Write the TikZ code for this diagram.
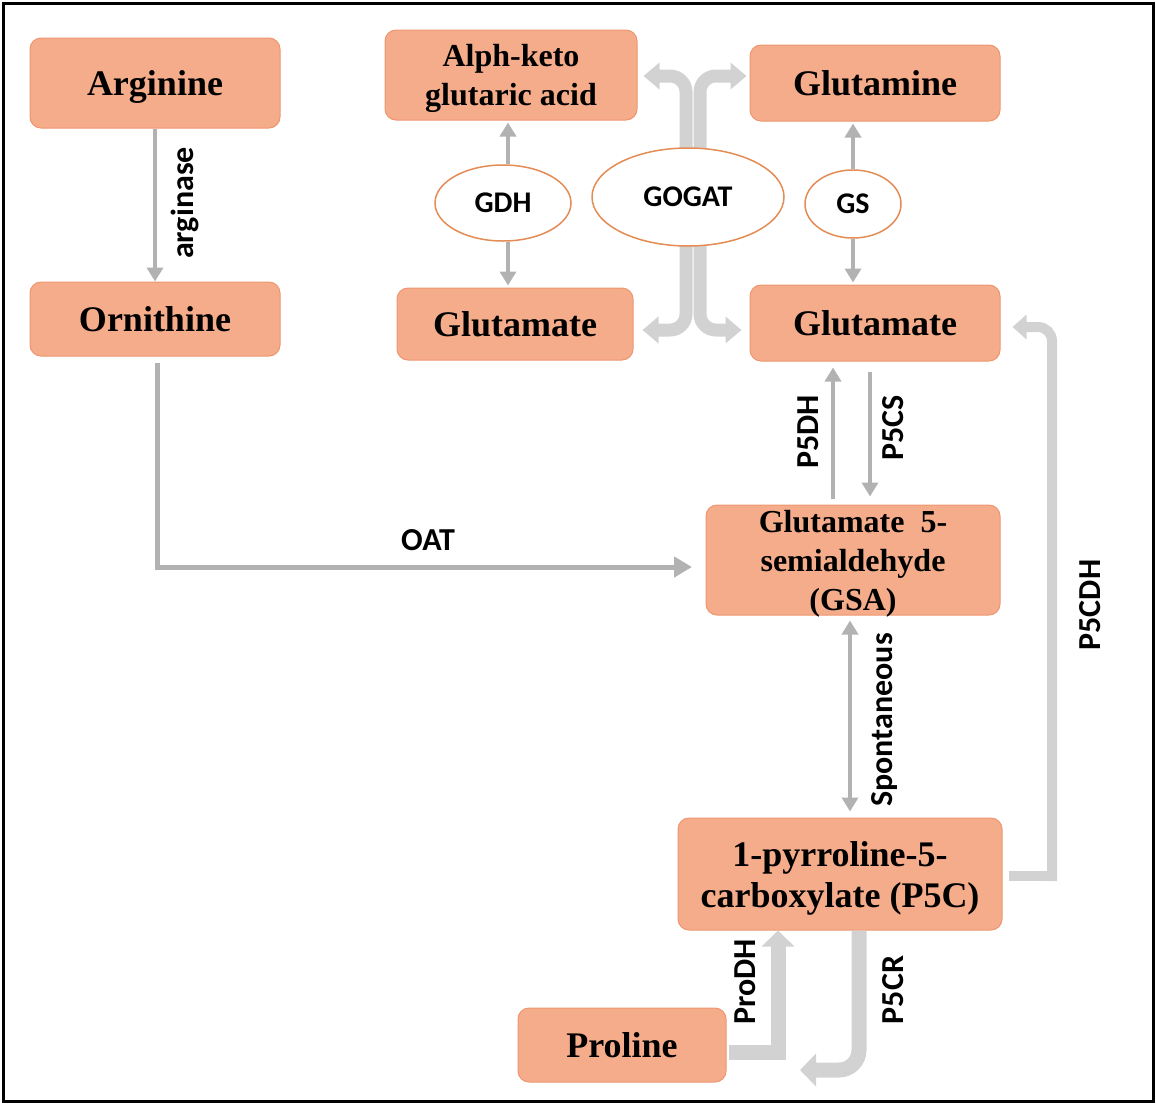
\documentclass[tikz,border=0pt]{standalone}
\usepackage{fontspec}
\setmainfont{Liberation Serif}
\newfontfamily\labfont{Carlito}
\usetikzlibrary{arrows.meta,shapes.geometric,calc}
\definecolor{boxfill}{RGB}{245,172,138}
\definecolor{boxedge}{RGB}{238,150,112}
\definecolor{elledge}{RGB}{228,140,85}
\definecolor{arrgray}{RGB}{178,178,178}
\definecolor{widegray}{RGB}{210,210,210}
\begin{document}
\begin{tikzpicture}[x=1pt,y=-1pt,
 box/.style={draw=boxedge, line width=1pt, fill=boxfill, rounded corners=11pt, align=center,
   font=\fontsize{36}{40}\selectfont\bfseries, inner sep=0pt, text depth=0pt},
 enz/.style={ellipse, draw=elledge, line width=1.5pt, fill=white,
   font=\labfont\fontsize{30}{34}\selectfont\bfseries, inner sep=0pt},
 lab/.style={font=\labfont\fontsize{32}{36}\selectfont\bfseries, inner sep=0pt},
 arr/.style={draw=arrgray, line width=4pt, -{Triangle[length=14pt,width=16pt]}},
 dblarr/.style={draw=arrgray, line width=4pt, {Triangle[length=14pt,width=16pt]}-{Triangle[length=14pt,width=16pt]}},
 gog/.style={draw=widegray, line width=13pt, rounded corners=16pt,
   {Triangle[length=16pt,width=26pt]}-{Triangle[length=16pt,width=26pt]}},
 wide/.style={draw=widegray, line width=10pt},
 widearr/.style={draw=widegray, line width=10pt, -{Triangle[length=14pt,width=24pt]}},
 fat/.style={draw=widegray, line width=15pt, -{Triangle[length=16pt,width=32pt]}}
]
\useasboundingbox (0,0) rectangle (1156,1104);
\draw[line width=3pt] (3,3) rectangle (1153,1101);

% boxes
\node[box, minimum width=250pt, minimum height=90pt] (arg) at (155,83) {Arginine};
\node[box, minimum width=250pt, minimum height=74pt] (orn) at (155,319) {Ornithine};
\node[box, minimum width=252pt, minimum height=90pt, font=\fontsize{32}{39}\selectfont\bfseries] (akg) at (511,75) {Alph-keto\\glutaric acid};
\node[box, minimum width=250pt, minimum height=76pt] (gln) at (875,83) {Glutamine};
\node[box, minimum width=236pt, minimum height=72pt] (glua) at (515,324) {Glutamate};
\node[box, minimum width=250pt, minimum height=76pt] (glub) at (875,323) {Glutamate};
\node[box, minimum width=294pt, minimum height=110pt, font=\fontsize{32}{39}\selectfont\bfseries] (gsa) at (853,560) {Glutamate\enspace 5-\\semialdehyde\\(GSA)};
\node[box, minimum width=324pt, minimum height=112pt, font=\fontsize{36}{41}\selectfont\bfseries] (p5c) at (840,874) {1-pyrroline-5-\\carboxylate (P5C)};
\node[box, minimum width=208pt, minimum height=74pt] (pro) at (622,1045) {Proline};

% GOGAT bracket
\draw[gog] ($(akg.east)+(6,1)$) -- (686,76) -- (686,330) -- ($(glua.east)+(9,6)$);
\draw[gog] ($(gln.west)+(-3,-7)$) -- (700,76) -- (700,330) -- ($(glub.west)+(-8,7)$);

% enzymes
\node[enz, minimum width=136pt, minimum height=76pt] (gdh) at (503,203) {GDH};
\node[enz, minimum width=192pt, minimum height=98pt] (gogat) at (688,197) {GOGAT};
\node[enz, minimum width=96pt, minimum height=68pt] (gs) at (853,204) {GS};

% GDH and GS arrows
\draw[arr] ($(gdh.north)+(5,0)$) -- ($(gdh.north |- akg.south)+(5,2)$);
\draw[arr] ($(gdh.south)+(5,0)$) -- ($(gdh.south |- glua.north)+(5,-2)$);
\draw[arr] (gs.north) -- ($(gs.north |- gln.south)+(0,2)$);
\draw[arr] (gs.south) -- ($(gs.south |- glub.north)+(0,-2)$);

% arginase
\draw[arr] (arg.south) -- (orn.north);
\node[lab, rotate=90] (argl) at (185,203) {arginase};

% OAT
\coordinate (oatend) at (692,567);
\draw[draw=arrgray, line width=5pt, -{Triangle[length=18pt,width=20pt]}] ($(orn.south)+(2,6)$) |- (oatend);
\node[lab] (oatl) at (428,540) {OAT};

% P5DH / P5CS
\draw[arr] ($(gsa.north)+(-20,-6)$) -- ($(glub.south)+(-42,6)$);
\draw[arr] ($(glub.south)+(-5,10)$) -- ($(gsa.north)+(17,-8)$);
\node[lab, rotate=90] (p5dhl) at (808,432) {P5DH};
\node[lab, rotate=90] (p5csl) at (893,428) {P5CS};

% Spontaneous
\draw[dblarr] ($(gsa.south)+(-3,5)$) -- ($(p5c.north)+(10,-6)$);
\node[lab, rotate=90] (spl) at (885,720) {Spontaneous};

% P5CDH
\draw[wide] ($(p5c.east)+(6,2)$) -- (1057,876);
\draw[widearr, rounded corners=14pt] (1052,881) -- (1052,327) -- ($(glub.east)+(12,4)$);
\node[lab, rotate=90] (p5cdhl) at (1090,605) {P5CDH};

% ProDH
\draw[fat] ($(pro.east)+(2,7)$) -| ($(p5c.south)+(-62,0)$);
\node[lab, rotate=90] (prodhl) at (745,982) {ProDH};

% P5CR
\draw[fat, rounded corners=20pt] ($(p5c.south)+(19,0)$) -- (859,1070) -- (800,1070);
\node[lab, rotate=90] (p5crl) at (893,990) {P5CR};
\end{tikzpicture}
\end{document}
